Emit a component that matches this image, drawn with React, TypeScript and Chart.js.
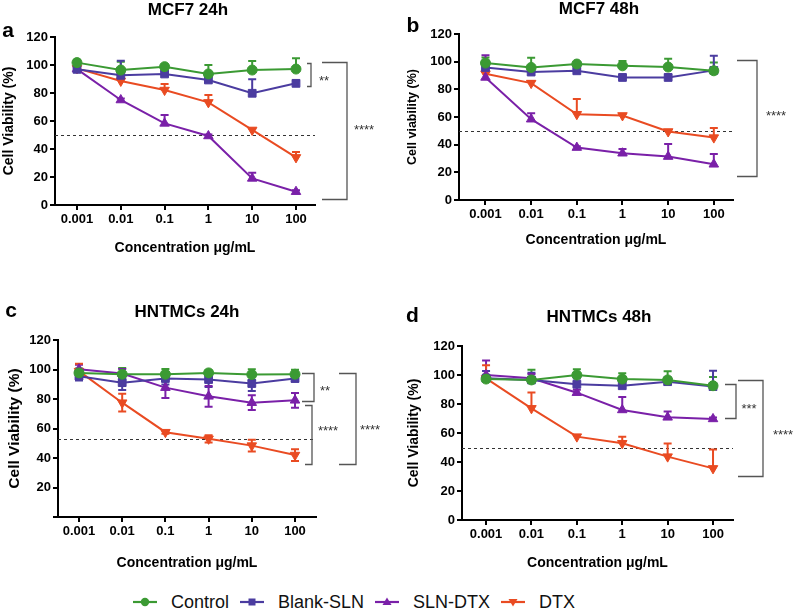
import React, { useEffect, useRef } from 'react';
import { Chart, registerables } from 'chart.js';

Chart.register(...registerables);
Chart.defaults.font.family = "'Liberation Sans', Arial, sans-serif";

// ---------- shared categories / series ----------
const CONC_LABELS = ['0.001', '0.01', '0.1', '1', '10', '100'];
const SERIES_NAMES = ['Control', 'Blank-SLN', 'SLN-DTX', 'DTX'];

// ---------- Panel a: MCF7 24h ----------
const A_CONTROL = [101.7, 96.4, 98.8, 93.6, 96.4, 97.1];
const A_CONTROL_ERR = [2, 6, 1.5, 6.4, 6.5, 7.7];
const A_BLANK = [96.9, 92.6, 93.6, 89.3, 79.8, 86.9];
const A_BLANK_ERR = [6, 10.5, 2, 2, 10, 2];
const A_SLNDTX = [97.1, 75, 58.3, 49.3, 19, 9.5];
const A_SLNDTX_ERR = [3, 1, 6, 1, 4, 1];
const A_DTX = [97.6, 88.6, 82.1, 73.3, 53.6, 34];
const A_DTX_ERR = [3, 2, 4.3, 5.3, 1, 3.8];
const A_THRESHOLD = 50;
const A_BRACKETS = [
  { top: 101.2, bottom: 85, label: '**' },
  { top: 102.1, bottom: 4, label: '****' },
];

// ---------- Panel b: MCF7 48h ----------
const B_CONTROL = [99, 95.8, 98.3, 97, 96.1, 93.4];
const B_CONTROL_ERR = [4, 7, 1, 3.5, 6, 6];
const B_BLANK = [95.8, 92.5, 93.4, 88.6, 88.6, 93.7];
const B_BLANK_ERR = [5, 2, 1.5, 1.5, 2, 10.5];
const B_SLNDTX = [88.6, 58.4, 37.9, 33.8, 31.4, 25.8];
const B_SLNDTX_ERR = [16, 4.4, 1, 3, 9, 7.5];
const B_DTX = [91.3, 84.5, 62, 61.1, 49.5, 45.1];
const B_DTX_ERR = [1.5, 1.5, 11, 1, 1, 7];
const B_THRESHOLD = 50;
const B_BRACKETS = [{ top: 101.4, bottom: 17.4, label: '****' }];

// ---------- Panel c: HNTMCs 24h ----------
const C_CONTROL = [97.7, 96.8, 96.8, 97.7, 96.6, 96.8];
const C_CONTROL_ERR = [3, 4.3, 3.5, 1.5, 3.5, 3];
const C_BLANK = [95.5, 91.1, 93.9, 93.2, 90.5, 93.9];
const C_BLANK_ERR = [3, 5, 4, 5, 5, 2];
const C_SLNDTX = [100.2, 97.3, 87.7, 81.8, 77.5, 79.1];
const C_SLNDTX_ERR = [3, 3, 7, 7, 5, 5];
const C_DTX = [98.9, 77.5, 57.5, 53, 48.4, 42];
const C_DTX_ERR = [5, 6, 1, 2.5, 4, 4];
const C_THRESHOLD = 53;
const C_BRACKETS = [
  { top: 97.3, bottom: 78.4, label: '**' },
  { top: 75.7, bottom: 35.9, label: '****' },
  { top: 97.3, bottom: 35.9, label: '****' },
];

// ---------- Panel d: HNTMCs 48h ----------
const D_CONTROL = [97.2, 96.6, 100, 97.2, 96.6, 92.6];
const D_CONTROL_ERR = [3, 7, 4, 4, 6, 6];
const D_BLANK = [97.7, 96.6, 93.6, 92.6, 95.4, 92];
const D_BLANK_ERR = [5, 5, 4, 3, 3, 11];
const D_SLNDTX = [100, 97.7, 87.8, 75.9, 70.8, 69.7];
const D_SLNDTX_ERR = [10, 3, 2, 9, 4, 1];
const D_DTX = [97.7, 77, 57.5, 52.9, 43.7, 35.6];
const D_DTX_ERR = [9, 11, 1, 4.6, 9, 13];
const D_THRESHOLD = 50;
const D_BRACKETS = [
  { top: 93.6, bottom: 70.3, label: '***' },
  { top: 96.6, bottom: 30.3, label: '****' },
];

// ---------- styles ----------
const SERIES_COLORS = ['#3b9a33', '#4b3ca0', '#7a20a8', '#e94b22'];
const SERIES_POINT = ['circle', 'rect', 'triangle', 'triangle'];
const SERIES_ROT = [0, 0, 0, 180];
const SERIES_RADIUS = [5, 5.5, 5.5, 5.5];
const FONT = "'Liberation Sans', Arial, sans-serif";

const PANELS = [
  {
    letter: 'a', title: 'MCF7 24h', yTitle: 'Cell Viability (%)',
    values: [A_CONTROL, A_BLANK, A_SLNDTX, A_DTX],
    errors: [A_CONTROL_ERR, A_BLANK_ERR, A_SLNDTX_ERR, A_DTX_ERR],
    threshold: A_THRESHOLD, brackets: A_BRACKETS,
    L: {
      left: 0, top: 0, w: 400, h: 290, padTop: 37, padRight: 85, yAxisW: 55, xAxisH: 85,
      xMin: -0.502, xMax: 5.434, xTitlePad: 33.6, yTitleSize: 14, yTitlePad: 0.6, hideZero: false,
      errBoth: false, titlePos: [188, 10], letterPos: [8, 31],
      br: [{ x1: 307, x2: 311, lx: 324, ly: 77 }, { x1: 322, x2: 347, lx: 364, ly: 126 }],
    },
  },
  {
    letter: 'b', title: 'MCF7 48h', yTitle: 'Cell viability (%)',
    values: [B_CONTROL, B_BLANK, B_SLNDTX, B_DTX],
    errors: [B_CONTROL_ERR, B_BLANK_ERR, B_SLNDTX_ERR, B_DTX_ERR],
    threshold: B_THRESHOLD, brackets: B_BRACKETS,
    L: {
      left: 400, top: 0, w: 397, h: 290, padTop: 34, padRight: 64, yAxisW: 59, xAxisH: 90,
      xMin: -0.58, xMax: 5.42, xTitlePad: 41.6, yTitleSize: 12.5, yTitlePad: 5.5, hideZero: false,
      errBoth: false, titlePos: [199, 9], letterPos: [13, 26],
      br: [{ x1: 337, x2: 357, lx: 376, ly: 112 }],
    },
  },
  {
    letter: 'c', title: 'HNTMCs 24h', yTitle: 'Cell Viability (%)',
    values: [C_CONTROL, C_BLANK, C_SLNDTX, C_DTX],
    errors: [C_CONTROL_ERR, C_BLANK_ERR, C_SLNDTX_ERR, C_DTX_ERR],
    threshold: C_THRESHOLD, brackets: C_BRACKETS,
    L: {
      left: 0, top: 290, w: 400, h: 290, padTop: 50, padRight: 84, yAxisW: 58, xAxisH: 63,
      xMin: -0.486, xMax: 5.486, xTitlePad: 8.6, yTitleSize: 15.5, yTitlePad: 5.7, hideZero: true,
      errBoth: true, titlePos: [187, 22], letterPos: [11, 21],
      br: [
        { x1: 302, x2: 314, lx: 325, ly: 97 },
        { x1: 305, x2: 312, lx: 328, ly: 137 },
        { x1: 339, x2: 356, lx: 370, ly: 136 },
      ],
    },
  },
  {
    letter: 'd', title: 'HNTMCs 48h', yTitle: 'Cell Viability (%)',
    values: [D_CONTROL, D_BLANK, D_SLNDTX, D_DTX],
    errors: [D_CONTROL_ERR, D_BLANK_ERR, D_SLNDTX_ERR, D_DTX_ERR],
    threshold: D_THRESHOLD, brackets: D_BRACKETS,
    L: {
      left: 400, top: 290, w: 397, h: 290, padTop: 56, padRight: 64, yAxisW: 62, xAxisH: 60,
      xMin: -0.53, xMax: 5.44, xTitlePad: 8.6, yTitleSize: 14, yTitlePad: 5.6, hideZero: false,
      errBoth: false, titlePos: [199, 27], letterPos: [12.5, 26],
      br: [{ x1: 325, x2: 336, lx: 349, ly: 115 }, { x1: 338, x2: 363, lx: 383, ly: 141 }],
    },
  },
];

const decorPlugin = {
  id: 'panelDecor',
  beforeDatasetsDraw(chart: any, _args: any, opts: any) {
    const ctx = chart.ctx;
    const y = chart.scales.y;
    const area = chart.chartArea;
    // threshold dashed line
    ctx.save();
    ctx.setLineDash([3, 3]);
    ctx.strokeStyle = '#333';
    ctx.lineWidth = 1;
    const ty = Math.round(y.getPixelForValue(opts.threshold)) + 0.5;
    ctx.beginPath();
    ctx.moveTo(area.left, ty);
    ctx.lineTo(area.right, ty);
    ctx.stroke();
    ctx.restore();
    // error bars
    ctx.save();
    ctx.lineWidth = 2;
    chart.data.datasets.forEach((ds: any, di: number) => {
      const meta = chart.getDatasetMeta(di);
      ctx.strokeStyle = ds.borderColor;
      meta.data.forEach((pt: any, i: number) => {
        const v = ds.data[i].y;
        const e = ds.errors[i];
        const x = pt.x;
        const y0 = y.getPixelForValue(v);
        const yt = y.getPixelForValue(v + e);
        const yb = y.getPixelForValue(v - e);
        ctx.beginPath();
        ctx.moveTo(x, opts.errBoth ? yb : y0);
        ctx.lineTo(x, yt);
        ctx.moveTo(x - 4, yt);
        ctx.lineTo(x + 4, yt);
        if (opts.errBoth) {
          ctx.moveTo(x - 4, yb);
          ctx.lineTo(x + 4, yb);
        }
        ctx.stroke();
      });
    });
    ctx.restore();
  },
  afterDraw(chart: any, _args: any, opts: any) {
    const ctx = chart.ctx;
    const y = chart.scales.y;
    ctx.save();
    // letter
    ctx.fillStyle = '#000';
    ctx.textAlign = 'center';
    ctx.textBaseline = 'middle';
    ctx.font = `bold 21px ${FONT}`;
    ctx.fillText(opts.letter, opts.letterPos[0], opts.letterPos[1]);
    // title
    ctx.font = `bold 17px ${FONT}`;
    ctx.fillText(opts.title, opts.titlePos[0], opts.titlePos[1]);
    // brackets
    ctx.strokeStyle = '#555';
    ctx.lineWidth = 1.3;
    opts.brackets.forEach((b: any, i: number) => {
      const p = opts.br[i];
      const yt = Math.round(y.getPixelForValue(b.top)) + 0.5;
      const yb = Math.round(y.getPixelForValue(b.bottom)) + 0.5;
      ctx.beginPath();
      ctx.moveTo(p.x1, yt);
      ctx.lineTo(p.x2, yt);
      ctx.lineTo(p.x2, yb);
      ctx.lineTo(p.x1, yb);
      ctx.stroke();
      ctx.fillStyle = '#333';
      ctx.font = `13px ${FONT}`;
      ctx.fillText(b.label, p.lx, p.ly + 4);
    });
    ctx.restore();
  },
};

function Panel({ cfg }: { cfg: any }) {
  const ref = useRef<HTMLCanvasElement>(null);
  useEffect(() => {
    const L = cfg.L;
    const axisGrid = { drawOnChartArea: false, drawTicks: true, tickLength: 5, color: '#000', lineWidth: 2 };
    const axisBorder = { display: true, color: '#000', width: 2 };
    const chart = new Chart(ref.current as HTMLCanvasElement, {
      type: 'line',
      data: {
        datasets: SERIES_NAMES.map((name, si) => ({
          label: name,
          data: cfg.values[si].map((v: number, i: number) => ({ x: i, y: v })),
          errors: cfg.errors[si],
          borderColor: SERIES_COLORS[si],
          backgroundColor: SERIES_COLORS[si],
          borderWidth: 2,
          pointStyle: SERIES_POINT[si],
          pointRotation: SERIES_ROT[si],
          pointRadius: SERIES_RADIUS[si],
          pointBorderWidth: 1,
          tension: 0,
        })) as any,
      },
      options: {
        animation: false,
        responsive: false,
        maintainAspectRatio: false,
        events: [],
        layout: { padding: { left: 0, top: L.padTop, right: L.padRight, bottom: 0 } },
        plugins: {
          legend: { display: false },
          tooltip: { enabled: false },
          panelDecor: {
            letter: cfg.letter, title: cfg.title, threshold: cfg.threshold, brackets: cfg.brackets,
            br: L.br, errBoth: L.errBoth, titlePos: L.titlePos, letterPos: L.letterPos,
          },
        } as any,
        scales: {
          x: {
            type: 'linear',
            min: L.xMin,
            max: L.xMax,
            afterBuildTicks: (s: any) => {
              s.ticks = CONC_LABELS.map((_, i) => ({ value: i }));
            },
            ticks: {
              callback: (v: any) => CONC_LABELS[v] ?? '',
              font: { size: 13, weight: 'bold' },
              color: '#000',
              padding: 2,
              maxRotation: 0,
              autoSkip: false,
            },
            grid: axisGrid,
            border: axisBorder,
            title: {
              display: true,
              text: 'Concentration μg/mL',
              font: { size: 14, weight: 'bold' },
              color: '#000',
              padding: { top: 0, bottom: L.xTitlePad },
            },
            afterFit: (s: any) => {
              s.height = L.xAxisH;
            },
          } as any,
          y: {
            min: 0,
            max: 120,
            ticks: {
              stepSize: 20,
              callback: (v: any) => (L.hideZero && v === 0 ? '' : String(v)),
              font: { size: 13, weight: 'bold' },
              color: '#000',
              padding: 2,
            },
            grid: axisGrid,
            border: axisBorder,
            title: {
              display: true,
              text: cfg.yTitle,
              font: { size: L.yTitleSize, weight: 'bold' },
              color: '#000',
              padding: { top: L.yTitlePad, bottom: 0 },
            },
            afterFit: (s: any) => {
              s.width = L.yAxisW;
            },
          } as any,
        },
      },
      plugins: [decorPlugin as any],
    });
    return () => chart.destroy();
  }, [cfg]);
  const L = cfg.L;
  return (
    <canvas
      ref={ref}
      width={L.w}
      height={L.h}
      style={{ position: 'absolute', left: L.left, top: L.top, width: L.w, height: L.h }}
    />
  );
}

function LegendMarker({ index }: { index: number }) {
  const c = SERIES_COLORS[index];
  let shape: any = null;
  if (index === 0) shape = <circle cx={12} cy={7} r={4.2} fill={c} />;
  else if (index === 1) shape = <rect x={8.5} y={3.5} width={7} height={7} fill={c} />;
  else if (index === 2) shape = <polygon points="12,2.5 16.5,10 7.5,10" fill={c} />;
  else shape = <polygon points="12,11.5 16.5,4 7.5,4" fill={c} />;
  return (
    <svg width={24} height={14} style={{ display: 'block' }}>
      <line x1={0} y1={7} x2={24} y2={7} stroke={c} strokeWidth={2.2} />
      {shape}
    </svg>
  );
}

export default function App() {
  return (
    <div
      style={{
        position: 'fixed', left: 0, top: 0, width: 797, height: 611,
        background: '#fff', overflow: 'hidden', fontFamily: FONT,
      }}
    >
      {PANELS.map((p) => (
        <Panel key={p.letter} cfg={p} />
      ))}
      <div
        style={{
          position: 'absolute', left: 133, top: 590, height: 24,
          display: 'flex', alignItems: 'center', fontSize: 18, color: '#111', whiteSpace: 'nowrap',
        }}
      >
        {SERIES_NAMES.map((name, i) => (
          <div key={name} style={{ display: 'flex', alignItems: 'center', marginRight: 11 }}>
            <LegendMarker index={i} />
            <span style={{ marginLeft: 14 }}>{name}</span>
          </div>
        ))}
      </div>
    </div>
  );
}
